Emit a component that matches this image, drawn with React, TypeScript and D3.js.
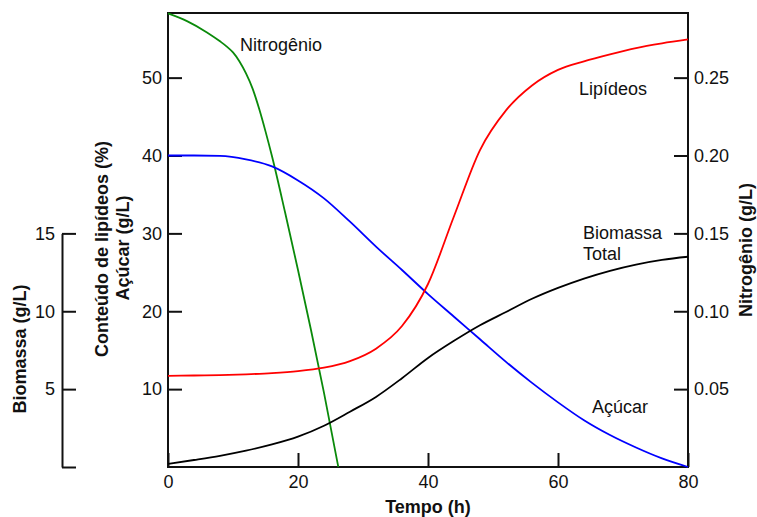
import React, { useEffect, useRef } from 'react';
import * as d3 from 'd3';

// time grid (h) shared by sugar, lipids and biomass
const time = [0, 4, 8, 12, 16, 20, 24, 28, 32, 36, 40, 44, 48, 52, 56, 60, 64, 68, 72, 76, 80];
const sugar = [40.0, 40.0, 39.95, 39.5, 38.6, 36.8, 34.5, 31.5, 28.3, 25.3, 22.2, 19.3, 16.4, 13.5, 10.8, 8.3, 6.0, 4.1, 2.5, 1.1, 0];
const lipids = [11.7, 11.75, 11.8, 11.9, 12.05, 12.3, 12.75, 13.6, 15.2, 18.1, 23.5, 32.2, 40.7, 45.8, 49.0, 51.0, 52.1, 53.0, 53.8, 54.4, 54.9];
const biomass = [0.2, 0.45, 0.72, 1.05, 1.45, 1.95, 2.65, 3.55, 4.5, 5.7, 7.0, 8.1, 9.1, 9.95, 10.8, 11.5, 12.1, 12.6, 13.0, 13.3, 13.5];

// nitrogen is only measured until it runs out
const nitrogenTime = [0, 3, 6, 8, 9, 10, 11, 12, 13, 14, 15, 16, 18, 20, 22, 24, 26.2];
const nitrogen = [0.2912, 0.2861, 0.279, 0.2733, 0.2701, 0.2662, 0.2604, 0.2527, 0.2431, 0.2303, 0.2155, 0.1995, 0.1637, 0.1265, 0.088, 0.0476, 0];

const timeTicks = [0, 20, 40, 60, 80];
const leftTicks = [10, 20, 30, 40, 50];
const rightTicks = [0.05, 0.1, 0.15, 0.2, 0.25];
const bioTicks = [0, 5, 10, 15];

const FONT = 'Arial, "Liberation Sans", sans-serif';

const App = () => {
  const svgRef = useRef<SVGSVGElement>(null);

  useEffect(() => {
    const svg = d3.select(svgRef.current);
    svg.selectAll('*').remove();

    const left = 168, right = 688, top = 13, bottom = 467;

    const x = d3.scaleLinear().domain([0, 80]).range([left, right]);
    const yLeft = d3.scaleLinear().domain([0, 58.3]).range([bottom, top]);
    const yRight = d3.scaleLinear().domain([0, 0.2915]).range([bottom, top]);
    const yBio = d3.scaleLinear().domain([0, 29.15]).range([bottom, top]);
    const yBioAxis = d3.scaleLinear().domain([0, 15]).range([bottom, yBio(15)]);

    const styleAxis = (g, remove = true) => {
      if (remove) g.select('.domain').remove();
      g.selectAll('.tick line').attr('stroke', '#111').attr('stroke-width', 2);
      g.selectAll('.tick text')
        .attr('fill', '#111')
        .style('font-size', '18px')
        .style('font-family', FONT);
    };

    // axes
    svg.append('g')
      .attr('transform', `translate(${left},0)`)
      .call(d3.axisLeft(yLeft).tickValues(leftTicks).tickSize(-14).tickPadding(6))
      .call(g => styleAxis(g));

    svg.append('g')
      .attr('transform', `translate(${right},0)`)
      .call(d3.axisRight(yRight).tickValues(rightTicks).tickSize(-14).tickPadding(6).tickFormat(d3.format('.2f')))
      .call(g => styleAxis(g));

    svg.append('g')
      .attr('transform', `translate(0,${bottom})`)
      .call(d3.axisBottom(x).tickValues(timeTicks).tickSize(-14).tickPadding(8))
      .call(g => styleAxis(g));

    svg.append('g')
      .attr('transform', 'translate(62,0)')
      .call(d3.axisLeft(yBioAxis).tickValues(bioTicks).tickSize(-14).tickSizeOuter(0).tickPadding(7)
        .tickFormat(d => (d === 0 ? '' : String(d))))
      .call(g => {
        styleAxis(g, false);
        g.select('.domain').attr('stroke', '#111').attr('stroke-width', 2);
      });

    // frame
    svg.append('rect')
      .attr('x', left).attr('y', top)
      .attr('width', right - left).attr('height', bottom - top)
      .attr('fill', 'none').attr('stroke', '#111').attr('stroke-width', 2);

    const plot = svg.append('g');

    const lineOf = (xs, scale) => d3.line<number>()
      .x((d, i) => x(xs[i]))
      .y(d => scale(d))
      .curve(d3.curveMonotoneX);

    const series = [
      { data: nitrogen, xs: nitrogenTime, scale: yRight, color: '#0a8a0a' },
      { data: sugar, xs: time, scale: yLeft, color: '#0000ff' },
      { data: lipids, xs: time, scale: yLeft, color: '#ff0000' },
      { data: biomass, xs: time, scale: yBio, color: '#000000' },
    ];

    series.forEach(s => {
      plot.append('path')
        .attr('d', lineOf(s.xs, s.scale)(s.data))
        .attr('fill', 'none')
        .attr('stroke', s.color)
        .attr('stroke-width', 1.8);
    });

    // labels inside the plot
    const labels = [
      { text: 'Nitrogênio', x: 240, y: 51 },
      { text: 'Lipídeos', x: 579, y: 95 },
      { text: 'Biomassa', x: 583, y: 239 },
      { text: 'Total', x: 583, y: 260 },
      { text: 'Açúcar', x: 592, y: 413 },
    ];
    labels.forEach(l => {
      svg.append('text')
        .attr('x', l.x).attr('y', l.y)
        .style('font-size', '18px')
        .style('font-family', FONT)
        .attr('fill', '#111')
        .text(l.text);
    });

    // axis titles
    const titles = [
      { text: 'Tempo (h)', x: 428, y: 513, rot: 0 },
      { text: 'Biomassa (g/L)', x: 26, y: 349, rot: -90 },
      { text: 'Conteúdo de lipídeos (%)', x: 108, y: 249, rot: -90 },
      { text: 'Açúcar (g/L)', x: 129, y: 248, rot: -90 },
      { text: 'Nitrogênio (g/L)', x: 752, y: 250, rot: -90 },
    ];
    titles.forEach(t => {
      svg.append('text')
        .attr('transform', `translate(${t.x},${t.y}) rotate(${t.rot})`)
        .attr('text-anchor', 'middle')
        .style('font-size', '18px')
        .style('font-weight', 'bold')
        .style('font-family', FONT)
        .attr('fill', '#111')
        .text(t.text);
    });
  }, []);

  return (
    <svg
      ref={svgRef}
      width={757}
      height={517}
      style={{ position: 'absolute', left: 0, top: 0, background: '#fff' }}
    />
  );
};

export default App;
